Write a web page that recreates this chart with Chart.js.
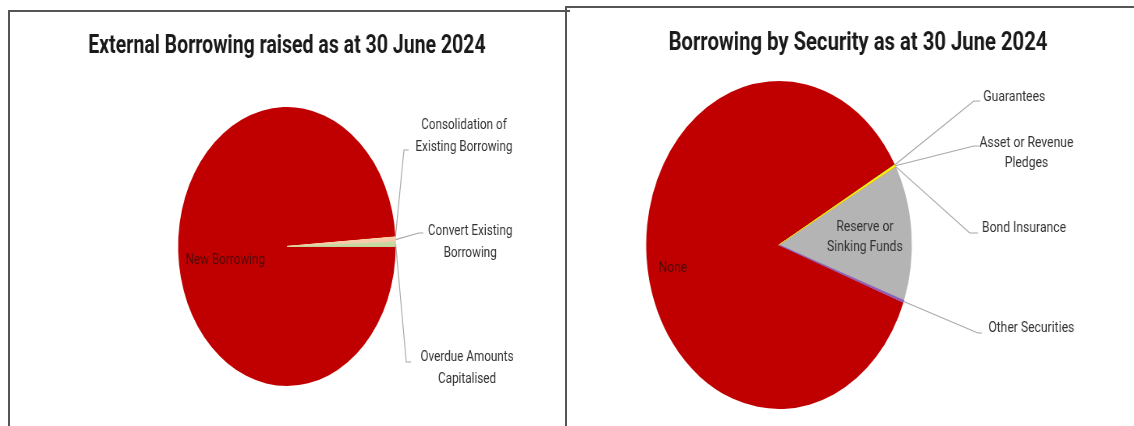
<!DOCTYPE html>
<html>
<head>
<meta charset="utf-8">
<script src="https://cdn.jsdelivr.net/npm/chart.js@4/dist/chart.umd.min.js"></script>
<style>
  body { margin: 0; background: #fff; width: 1134px; height: 426px; overflow: hidden; position: relative; }
  .frame { position: absolute; border-left: 2px solid #555; border-top: 2px solid #555; }
  .wrap { position: absolute; transform-origin: 0 0; }
</style>
</head>
<body>
<div class="frame" style="left:8px; top:10px; width:560px; height:420px;"></div>
<div class="frame" style="left:565px; top:6px; width:580px; height:430px;"></div>
<div class="wrap" id="w1" style="left:10px; top:13px; transform:scaleX(0.78);"><canvas id="c1" width="712" height="413"></canvas></div>
<div class="wrap" id="w2" style="left:568px; top:9px; transform:scaleX(0.81);"><canvas id="c2" width="699" height="417"></canvas></div>
<script>
// left chart: external borrowing raised (share of total, %)
const raisedLabels = ['New Borrowing', 'Consolidation of Existing Borrowing', 'Convert Existing Borrowing', 'Overdue Amounts Capitalised'];
const raisedValues = [98.9, 0.05, 0.55, 0.5];
const raisedColors = ['#c00000', '#ffe699', '#f8cbad', '#c5d9a0'];

// right chart: borrowing by security (share of total, %)
const securityLabels = ['None', 'Guarantees', 'Asset or Revenue Pledges', 'Bond Insurance', 'Reserve or Sinking Funds', 'Other Securities'];
const securityValues = [86.15, 0.05, 0.15, 0.05, 13.4, 0.2];
const securityColors = ['#c00000', '#92d050', '#ffff00', '#ffc000', '#b4b4b4', '#8e5ab0'];

const FONT = 'Roboto, "Liberation Sans", sans-serif';

// titles, data labels and leader lines
const sliceLabels = {
  id: 'sliceLabels',
  afterDatasetsDraw(chart, args, o) {
    const ctx = chart.ctx;
    const arcs = chart.getDatasetMeta(0).data;
    ctx.save();
    ctx.textAlign = 'center';
    ctx.textBaseline = 'middle';
    ctx.font = 'bold 25px ' + FONT;
    ctx.fillStyle = '#1a1a1a';
    ctx.fillText(o.title, o.titleX, o.titleY);

    ctx.font = '15px ' + FONT;
    o.items.forEach(it => {
      const p = arcs[it.i].getProps(['x', 'y', 'startAngle', 'endAngle', 'outerRadius'], true);
      let tx, ty;
      if (it.inside) {
        tx = p.x + it.dx;
        ty = p.y + it.dy;
        ctx.fillStyle = it.color;
      } else {
        const mid = (p.startAngle + p.endAngle) / 2;
        const rx = p.x + Math.cos(mid) * p.outerRadius;
        const ry = p.y + Math.sin(mid) * p.outerRadius;
        ctx.strokeStyle = '#a6a6a6';
        ctx.lineWidth = 1.2;
        ctx.beginPath();
        ctx.moveTo(rx, ry);
        ctx.lineTo(it.elbow[0], it.elbow[1]);
        ctx.lineTo(it.elbow[2], it.elbow[1]);
        ctx.stroke();
        tx = it.x;
        ty = it.y;
        ctx.fillStyle = '#333333';
      }
      it.lines.forEach((line, k) => ctx.fillText(line, tx, ty + k * o.lineHeight));
    });
    ctx.restore();
  }
};

function pie(id, labels, values, colors, rotation, radius, padding, labelOpts) {
  new Chart(document.getElementById(id), {
    type: 'pie',
    data: {
      labels: labels,
      datasets: [{
        data: values,
        backgroundColor: colors,
        borderColor: colors,
        borderWidth: values.map(v => v < 1 ? 0.8 : 0)
      }]
    },
    options: {
      responsive: false,
      devicePixelRatio: 1,
      animation: false,
      rotation: rotation,
      radius: radius,
      layout: { padding: padding },
      plugins: {
        legend: { display: false },
        title: { display: false },
        tooltip: { enabled: false },
        sliceLabels: labelOpts
      }
    },
    plugins: [sliceLabels]
  });
}

pie('c1', raisedLabels, raisedValues, raisedColors, 90, 139.5,
  { top: 54, bottom: 0, left: 0, right: 2 },
  {
    title: 'External Borrowing raised as at 30 June 2024', titleX: 355, titleY: 34, lineHeight: 22,
    items: [
      { i: 0, inside: true, dx: -79, dy: 13.5, color: '#4d0a0a', lines: ['New Borrowing'] },
      { i: 1, x: 582, y: 112, elbow: [505, 137, 511], lines: ['Consolidation of', 'Existing Borrowing'] },
      { i: 2, x: 590, y: 218, elbow: [524, 220, 530], lines: ['Convert Existing', 'Borrowing'] },
      { i: 3, x: 586, y: 344, elbow: [508, 349, 514], lines: ['Overdue Amounts', 'Capitalised'] }
    ]
  });

pie('c2', securityLabels, securityValues, securityColors, 110.5, 164,
  { top: 55, bottom: 0, left: 0, right: 178 },
  {
    title: 'Borrowing by Security as at 30 June 2024', titleX: 358, titleY: 35, lineHeight: 20,
    items: [
      { i: 0, inside: true, dx: -131, dy: 23, color: '#4d0a0a', lines: ['None'] },
      { i: 4, inside: true, dx: 106, dy: -18, color: '#333333', lines: ['Reserve or', 'Sinking Funds'] },
      { i: 1, x: 551, y: 88, elbow: [501, 92, 509], lines: ['Guarantees'] },
      { i: 2, x: 566, y: 134, elbow: [501, 137, 507], lines: ['Asset or Revenue', 'Pledges'] },
      { i: 3, x: 563, y: 219, elbow: [496, 224, 506], lines: ['Bond Insurance'] },
      { i: 5, x: 572, y: 319, elbow: [506, 324, 511], lines: ['Other Securities'] }
    ]
  });
</script>
</body>
</html>
